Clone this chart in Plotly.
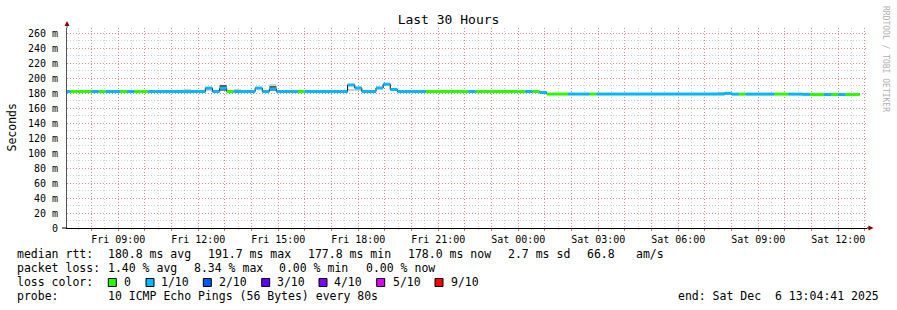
import plotly.graph_objects as go
import pandas as pd

# ---------------- data ----------------
title = "Last 30 Hours"
range_start = "2025-12-05 07:04:41"
range_end = "2025-12-06 13:04:41"
bin_first = "2025-12-05 06:56:00"   # start of first consolidated bin
bin_minutes = 16

# median rtt per 16-minute bin (ms)
median_ms = (
    [182.0] * 20 +                      # bins -1..18
    [186.5, 182.0, 186.3, 182.0, 182.0, 182.0, 182.0, 186.5, 182.0, 185.3] +   # 19..28
    [182.0] * 10 +                      # 29..38
    [190.7, 186.7, 182.0, 182.0, 186.7, 191.7, 184.7] +                        # 39..45
    [182.0] * 20 +                      # 46..65
    [180.7] +                           # 66
    [178.6] * 25 +                      # 67..91
    [179.5] +                           # 92
    [178.5] * 10 +                      # 93..102
    [178.2] +                           # 103
    [178.0] * 7                         # 104..110
)

# lost pings (of 10) per bin -> loss colour
loss_pings = (
    [1, 0, 0, 0, 1, 0, 1, 1, 0, 1, 0, 0] +          # -1..10
    [1] * 11 + [0] +                                # 11..21, 22
    [1] * 9 + [0] +                                 # 23..31, 32
    [1] * 17 +                                      # 33..49
    [0] * 6 + [1] + [0] * 7 + [1] + [0] +           # 50..65
    [1] + [0] * 3 + [1] * 3 + [0] +                 # 66..73
    [1] * 20 + [0] + [1] * 4 + [0] * 2 +            # 74..93, 94, 95..98, 99..100
    [1] * 3 + [0] * 2 + [1] + [0] + [1] + [0] * 2   # 101..110
)

smoke_light_bins = [16, 19, 23, 28, 39, 40, 91]
smoke_light_low = [182.5, 182.5, 182.5, 189.3, 182.5, 182.5, 178.9]
smoke_light_high = [185.5, 185.5, 185.3, 192.0, 185.5, 185.5, 180.6]
smoke_dark_bins = [21, 28]
smoke_dark_low = [183.0, 183.0]
smoke_dark_high = [190.8, 189.3]

loss_levels = [0, 1, 2, 3, 4, 5, 9]
loss_labels = ["0", "1/10", "2/10", "3/10", "4/10", "5/10", "9/10"]
loss_colors = ["#26ff00", "#00b8ff", "#0059ff", "#5e00ff", "#7e00ff", "#dd00ff", "#ff0000"]

y_ticks = list(range(0, 261, 20))
y_ticktext = ["0"] + [f"{v} m" for v in y_ticks[1:]]

x_major = pd.date_range("2025-12-05 08:00", "2025-12-06 13:00", freq="h")
x_ticktext = [t.strftime("%a %H:%M") if t.hour % 3 == 0 else "" for t in x_major]

row_median = ["median rtt:", "180.8 ms avg", "191.7 ms max", "177.8 ms min",
              "178.0 ms now", "2.7 ms sd", "66.8", "am/s"]
row_loss = ["packet loss:", "1.40 % avg", "8.34 % max", "0.00 % min", "0.00 % now"]
row_color = "loss color:"
row_probe = ["probe:", "10 ICMP Echo Pings (56 Bytes) every 80s"]
end_text = "end: Sat Dec  6 13:04:41 2025"
watermark = "RRDTOOL / TOBI OETIKER"
y_title = "Seconds"

# ---------------- layout helpers ----------------
W, H = 897, 310
PL, PR, PT, PB = 67, 867, 28, 228
FONT = "DejaVu Sans Mono"


def px(x):
    return (x - PL) / (PR - PL)


def py(y):
    return (PB - y) / (PB - PT)


n = len(median_ms)
t0 = pd.Timestamp(bin_first)
step = pd.Timedelta(minutes=bin_minutes)
starts = [t0 + step * i for i in range(n)]
ends = [s + step for s in starts]
centers = [s + step / 2 for s in starts]

fig = go.Figure()

# smoke (bars with base)
fig.add_trace(go.Bar(
    x=[centers[b + 1] for b in smoke_light_bins],
    base=smoke_light_low,
    y=[h - l for h, l in zip(smoke_light_high, smoke_light_low)],
    width=bin_minutes * 60000, marker=dict(color="#cfcfcf", line=dict(width=0)),
    hoverinfo="skip"))
fig.add_trace(go.Bar(
    x=[centers[b + 1] for b in smoke_dark_bins],
    base=smoke_dark_low,
    y=[h - l for h, l in zip(smoke_dark_high, smoke_dark_low)],
    width=bin_minutes * 60000, marker=dict(color="#5a5a5a", line=dict(width=0)),
    hoverinfo="skip"))

# thin black median line
fig.add_trace(go.Scatter(
    x=starts + [ends[-1]], y=median_ms + [median_ms[-1]],
    mode="lines", line=dict(color="#000000", width=1, shape="hv"),
    hoverinfo="skip"))

# coloured median band by loss
for lvl, col in zip(loss_levels, loss_colors):
    xs, ys = [], []
    for i in range(n):
        if loss_pings[i] == lvl:
            xs += [starts[i], ends[i], None]
            ys += [median_ms[i], median_ms[i], None]
    if xs:
        fig.add_trace(go.Scatter(x=xs, y=ys, mode="lines",
                                 line=dict(color=col, width=3), hoverinfo="skip"))

major_grid = "rgba(222,48,48,0.42)"
minor_grid = "rgba(143,143,143,0.42)"

fig.update_layout(
    width=W, height=H,
    margin=dict(l=PL, r=W - PR, t=PT, b=H - PB, pad=0),
    paper_bgcolor="white", plot_bgcolor="white",
    showlegend=False, barmode="overlay",
    font=dict(family=FONT, size=10, color="#000000"),
    title=dict(text=title, x=0.5, xref="container", xanchor="center",
               y=1 - 19.5 / H, yref="container", yanchor="middle",
               font=dict(family=FONT, size=13, color="#000000")),
    xaxis=dict(
        type="date", range=[range_start, range_end],
        tickmode="array", tickvals=list(x_major), ticktext=x_ticktext,
        showgrid=True, gridcolor=major_grid, griddash="1px,2px", gridwidth=1,
        minor=dict(dtick=30 * 60 * 1000, tick0="2025-12-05 07:30:00",
                   showgrid=True, gridcolor=minor_grid, griddash="1px,2px",
                   ticks="outside", ticklen=1, tickcolor=minor_grid),
        ticks="outside", ticklen=2, tickcolor="rgba(222,48,48,0.7)",
        showline=True, linecolor="#000000", linewidth=1, zeroline=False,
        tickfont=dict(family=FONT, size=10), fixedrange=True),
    yaxis=dict(
        range=[0, 200 / 0.75], tickmode="array", tickvals=y_ticks, ticktext=y_ticktext,
        showgrid=True, gridcolor=major_grid, griddash="1px,2px", gridwidth=1,
        minor=dict(dtick=10, showgrid=True, gridcolor=minor_grid, griddash="1px,2px"),
        ticks="", ticklabelstandoff=6,
        showline=True, linecolor="#555555", linewidth=1, zeroline=False,
        tickfont=dict(family=FONT, size=10), fixedrange=True),
)

ann = []


def text(x, y, s, anchor="left", size=11.5, color="#000000", angle=0):
    ann.append(dict(x=px(x), y=py(y), xref="paper", yref="paper", text=s.replace(" ", "\u00a0"),
                    showarrow=False, xanchor=anchor, yanchor="middle", borderpad=0,
                    textangle=angle, font=dict(family=FONT, size=size, color=color)))


for xpos, s in zip([16, 107.3, 207.3, 307.3, 407.3, 507.3, 586, 635], row_median):
    text(xpos, 254, s)
for xpos, s in zip([16, 107.3, 193.3, 278.3, 365], row_loss):
    text(xpos, 268, s)
text(16, 282, row_color)
sq_x = [108.3, 146, 203.3, 261.7, 319, 376.7, 435]
lab_x = [123.3, 160, 217.7, 276, 333, 391.7, 450]
shapes = []
for sx, lx, lab, col in zip(sq_x, lab_x, loss_labels, loss_colors):
    text(lx, 282, lab)
    shapes.append(dict(type="rect", xref="paper", yref="paper",
                       x0=px(sx), x1=px(sx + 8), y0=py(286.5), y1=py(278.5),
                       fillcolor=col, line=dict(color="#000000", width=1)))
for xpos, s in zip([16, 107.3], row_probe):
    text(xpos, 296, s)
text(880, 296, end_text, anchor="right")
text(11, 127.5, y_title, angle=-90)
text(886, 59, watermark, size=8, color="#b0b0b0", angle=90)
ann[-1]["xanchor"] = "center"
ann[-2]["xanchor"] = "center"

# axis arrows and extensions
arrow_col = "#8b0000"
shapes.append(dict(type="path", xref="paper", yref="paper",
                   path=f"M {px(64.5)} {py(26)} L {px(69.5)} {py(26)} L {px(67)} {py(21)} Z",
                   fillcolor=arrow_col, line=dict(width=0)))
shapes.append(dict(type="path", xref="paper", yref="paper",
                   path=f"M {px(868.5)} {py(225.5)} L {px(868.5)} {py(230.5)} L {px(873.5)} {py(228)} Z",
                   fillcolor=arrow_col, line=dict(width=0)))
shapes.append(dict(type="line", xref="paper", yref="paper",
                   x0=px(62), x1=px(67), y0=0, y1=0, line=dict(color="#000000", width=1)))
shapes.append(dict(type="line", xref="paper", yref="paper",
                   x0=px(867), x1=px(869), y0=0, y1=0, line=dict(color="#000000", width=1)))
shapes.append(dict(type="line", xref="paper", yref="paper",
                   x0=0, x1=0, y0=1, y1=py(26), line=dict(color="#555555", width=1)))

fig.update_layout(annotations=ann, shapes=shapes)
fig.write_html("out.html")
